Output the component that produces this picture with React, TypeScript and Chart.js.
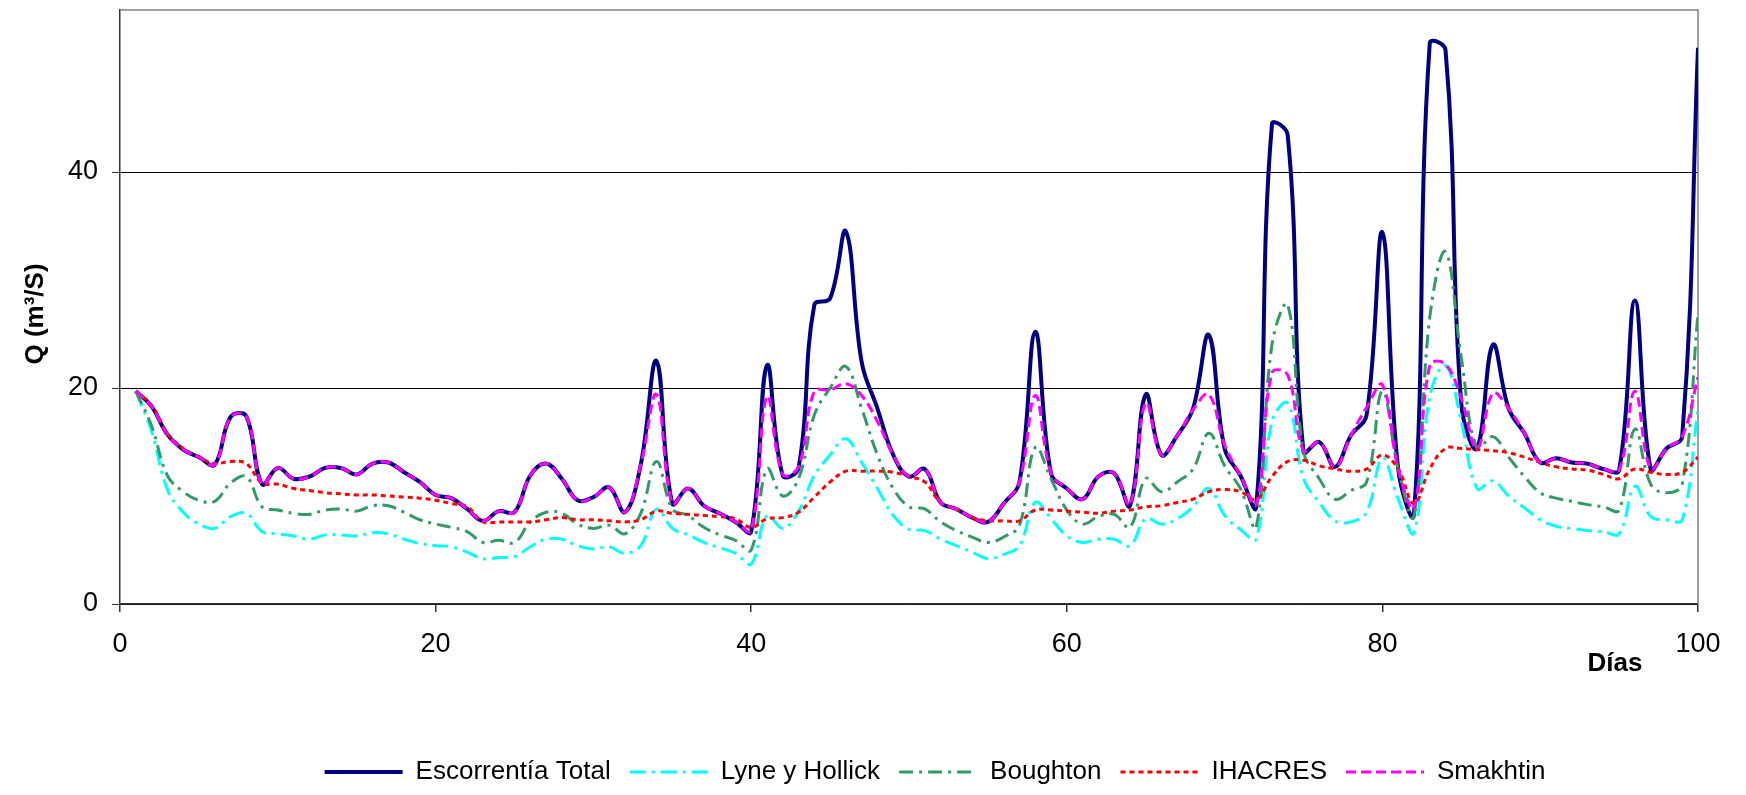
import React, { useEffect, useRef } from 'react';
import { Chart, registerables } from 'chart.js';

Chart.register(...registerables);

const FONT = "Arial, 'Liberation Sans', sans-serif";

const days = [
  1, 2, 3, 4, 5, 6, 7, 8, 9, 10, 11, 12, 13, 14, 15, 16, 17, 18, 19, 20,
  21, 22, 23, 24, 25, 26, 27, 28, 29, 30, 31, 32, 33, 34, 35, 36, 37, 38, 39, 40,
  41, 42, 43, 44, 45, 46, 47, 48, 49, 50, 51, 52, 53, 54, 55, 56, 57, 58, 59, 60,
  61, 62, 63, 64, 65, 66, 67, 68, 69, 70, 71, 72, 73, 74, 75, 76, 77, 78, 79, 80,
  81, 82, 83, 84, 85, 86, 87, 88, 89, 90, 91, 92, 93, 94, 95, 96, 97, 98, 99, 100,
];

const escorrentiaTotal = [
  19.7, 18.3, 15.7, 14.3, 13.6, 12.9, 17.3, 17.4, 11.1, 12.6,
  11.6, 11.8, 12.6, 12.6, 12.0, 13.0, 13.1, 12.2, 11.3, 10.1,
  9.8, 8.8, 7.7, 8.6, 8.5, 11.9, 13.0, 11.6, 9.6, 9.9,
  10.8, 8.5, 12.9, 22.5, 9.3, 10.7, 9.1, 8.4, 7.6, 6.7,
  22.1, 11.9, 12.6, 27.7, 28.3, 34.5, 22.4, 18.1, 13.8, 11.8,
  12.5, 9.4, 8.8, 8.0, 7.6, 9.3, 11.3, 25.2, 12.1, 10.7,
  9.7, 11.8, 12.1, 9.1, 19.4, 13.8, 15.6, 18.1, 24.9, 14.4,
  11.9, 9.0, 44.4, 43.4, 14.1, 15.0, 12.7, 15.6, 17.5, 34.4,
  12.5, 8.3, 51.9, 51.3, 18.5, 14.4, 24.0, 18.1, 15.8, 13.1,
  13.5, 13.1, 13.0, 12.5, 12.4, 28.1, 12.5, 14.4, 15.5, 51.5,
];

const lyneHollick = [
  19.7, 16.0, 10.6, 8.5, 7.4, 7.0, 8.1, 8.4, 6.7, 6.5,
  6.3, 6.0, 6.4, 6.4, 6.3, 6.6, 6.5, 6.0, 5.6, 5.4,
  5.3, 4.8, 4.2, 4.3, 4.4, 5.3, 6.0, 6.0, 5.4, 5.1,
  5.3, 4.7, 5.4, 8.8, 7.0, 6.4, 5.7, 5.2, 4.7, 3.7,
  8.2, 7.0, 8.6, 11.9, 13.8, 15.3, 13.1, 10.7, 8.2, 6.9,
  6.8, 6.0, 5.4, 4.8, 4.2, 4.6, 5.4, 9.4, 7.9, 6.3,
  5.7, 6.0, 6.0, 5.4, 7.9, 7.4, 7.9, 9.0, 10.7, 8.2,
  6.9, 6.0, 16.9, 18.6, 11.6, 9.4, 7.7, 7.6, 8.5, 13.5,
  9.7, 6.6, 19.2, 22.1, 16.9, 10.7, 11.4, 10.0, 8.9, 7.8,
  7.2, 7.0, 6.8, 6.7, 6.5, 10.9, 8.1, 7.8, 7.8, 18.1,
];

const boughton = [
  19.7, 16.5, 11.9, 10.4, 9.6, 9.5, 11.2, 11.8, 9.0, 8.7,
  8.4, 8.3, 8.7, 8.8, 8.6, 9.1, 9.1, 8.5, 7.8, 7.4,
  7.1, 6.7, 5.7, 5.9, 5.7, 7.6, 8.5, 8.4, 7.4, 7.0,
  7.3, 6.5, 8.4, 13.2, 8.8, 8.2, 7.1, 6.4, 5.9, 5.0,
  12.5, 10.0, 11.6, 17.5, 20.0, 22.0, 18.1, 13.8, 10.7, 9.0,
  8.8, 7.6, 6.8, 6.2, 5.7, 6.2, 7.3, 14.5, 11.6, 8.7,
  7.4, 8.1, 8.3, 7.1, 11.6, 10.4, 11.3, 12.5, 15.8, 12.8,
  10.7, 7.1, 24.0, 27.7, 14.1, 11.6, 9.7, 10.5, 11.3, 19.7,
  12.5, 8.1, 26.5, 32.6, 22.8, 14.4, 15.5, 13.6, 11.8, 10.3,
  9.8, 9.5, 9.2, 9.0, 8.7, 16.2, 11.1, 10.3, 11.1, 26.9,
];

const ihacres = [
  19.7, 18.4, 15.8, 14.4, 13.6, 13.0, 13.2, 13.0, 11.2, 11.1,
  10.7, 10.5, 10.3, 10.2, 10.1, 10.1, 10.0, 9.9, 9.8, 9.6,
  9.3, 9.0, 7.6, 7.6, 7.6, 7.6, 7.8, 8.0, 7.8, 7.8,
  7.7, 7.6, 7.8, 8.6, 8.4, 8.3, 8.2, 8.1, 7.9, 7.1,
  7.9, 8.0, 8.5, 9.9, 11.3, 12.3, 12.3, 12.3, 12.2, 11.8,
  11.3, 9.4, 8.8, 8.0, 7.7, 7.7, 7.7, 8.7, 8.7, 8.6,
  8.5, 8.4, 8.6, 8.7, 9.0, 9.1, 9.4, 9.7, 10.4, 10.6,
  10.4, 9.7, 11.8, 13.2, 13.3, 12.8, 12.5, 12.3, 12.5, 13.8,
  12.5, 9.3, 12.5, 14.4, 14.4, 14.3, 14.2, 14.0, 13.6, 13.1,
  12.7, 12.5, 12.4, 12.0, 11.6, 12.5, 12.2, 12.0, 12.2, 13.6,
];

const smakhtin = [
  19.7, 18.3, 15.7, 14.3, 13.6, 12.9, 17.3, 17.4, 11.1, 12.6,
  11.6, 11.8, 12.6, 12.6, 12.0, 13.0, 13.1, 12.2, 11.3, 10.1,
  9.8, 8.8, 7.7, 8.6, 8.5, 11.9, 13.0, 11.6, 9.6, 9.9,
  10.8, 8.5, 12.9, 19.4, 9.3, 10.7, 9.1, 8.4, 7.6, 6.8,
  19.2, 12.0, 12.7, 19.7, 19.8, 20.4, 19.3, 16.9, 13.8, 11.8,
  12.5, 9.4, 8.8, 8.0, 7.6, 9.3, 11.3, 19.3, 12.1, 10.7,
  9.7, 11.8, 12.1, 9.2, 18.6, 13.8, 15.6, 18.0, 19.4, 14.7,
  11.9, 9.2, 21.4, 21.2, 14.2, 15.0, 12.7, 15.6, 18.2, 20.3,
  12.5, 8.9, 22.1, 22.2, 19.0, 14.4, 19.5, 18.1, 15.8, 13.1,
  13.5, 13.1, 13.0, 12.5, 12.4, 19.7, 12.5, 14.4, 15.5, 21.0,
];

const seriesNames = ['Escorrentía Total', 'Lyne y Hollick', 'Boughton', 'IHACRES', 'Smakhtin'];
const xTitle = 'Días';
const yTitle = 'Q (m³/S)';

const toPoints = (vals: number[]) => days.map((d, i) => ({ x: d, y: vals[i] }));

export default function App() {
  const canvasRef = useRef<HTMLCanvasElement | null>(null);

  useEffect(() => {
    document.body.style.margin = '0';
    const canvas = canvasRef.current;
    if (!canvas) return;

    const framePlugin = {
      id: 'frame',
      beforeDatasetsDraw(chart: any) {
        const { ctx, chartArea } = chart;
        const { left, top, right, bottom } = chartArea;
        ctx.save();
        ctx.strokeStyle = '#808080';
        ctx.lineWidth = 1.5;
        ctx.beginPath();
        ctx.moveTo(left, top);
        ctx.lineTo(right, top);
        ctx.lineTo(right, bottom);
        ctx.stroke();
        ctx.restore();
      },
    };

    const axisTitlesPlugin = {
      id: 'axisTitles',
      afterDraw(chart: any) {
        const { ctx, chartArea } = chart;
        ctx.save();
        ctx.font = `bold 26px ${FONT}`;
        ctx.fillStyle = '#000';
        ctx.textAlign = 'center';
        ctx.textBaseline = 'middle';
        ctx.fillText(xTitle, chartArea.right - 83, chartArea.bottom + 60);
        ctx.translate(36, chartArea.top + 304);
        ctx.rotate(-Math.PI / 2);
        ctx.fillText(yTitle, 0, 0);
        ctx.restore();
      },
    };

    const legendShift = {
      id: 'legendShift',
      afterLayout(chart: any) {
        const lg = chart.legend;
        if (lg) {
          lg.left += 86;
          lg.right += 86;
        }
      },
    };

    const common = { pointRadius: 0, pointHoverRadius: 0, fill: false, tension: 0.4 };

    const chart = new Chart(canvas, {
      type: 'line',
      data: {
        datasets: [
          { ...common, label: seriesNames[0], data: toPoints(escorrentiaTotal), borderColor: '#000080', backgroundColor: '#000080', borderWidth: 4, borderDash: [], order: 5 },
          { ...common, label: seriesNames[1], data: toPoints(lyneHollick), borderColor: '#00FFFF', backgroundColor: '#00FFFF', borderWidth: 3, borderDash: [16, 6, 3, 6], order: 4 },
          { ...common, label: seriesNames[2], data: toPoints(boughton), borderColor: '#339966', backgroundColor: '#339966', borderWidth: 3, borderDash: [14, 6, 3, 6], order: 3 },
          { ...common, label: seriesNames[3], data: toPoints(ihacres), borderColor: '#FF0000', backgroundColor: '#FF0000', borderWidth: 3, borderDash: [5, 4], order: 2 },
          { ...common, label: seriesNames[4], data: toPoints(smakhtin), borderColor: '#FF00FF', backgroundColor: '#FF00FF', borderWidth: 3, borderDash: [10, 5], order: 1 },
        ],
      },
      options: {
        animation: false,
        responsive: false,
        maintainAspectRatio: false,
        layout: { padding: { top: 10, right: 48, left: 0, bottom: 0 } },
        plugins: {
          tooltip: { enabled: false },
          title: { display: false },
          legend: {
            display: true,
            position: 'bottom',
            labels: {
              usePointStyle: true,
              pointStyle: 'line',
              pointStyleWidth: 78,
              boxHeight: 26,
              padding: 19,
              color: '#000',
              font: { family: FONT, size: 26 },
              sort: (a: any, b: any) => a.datasetIndex - b.datasetIndex,
              generateLabels: (ch: any) => {
                const items = (Chart as any).defaults.plugins.legend.labels.generateLabels(ch);
                return items.map((it: any) => {
                  const ds = ch.data.datasets[it.datasetIndex];
                  return {
                    ...it,
                    lineDash: ds.borderDash,
                    lineWidth: ds.borderWidth,
                    strokeStyle: ds.borderColor,
                    fillStyle: ds.borderColor,
                    pointStyle: 'line',
                  };
                });
              },
            },
          },
        },
        scales: {
          x: {
            type: 'linear',
            min: 0,
            max: 100,
            ticks: { stepSize: 20, color: '#000', font: { family: FONT, size: 27 }, padding: 16, maxRotation: 0 },
            grid: { drawOnChartArea: false, tickLength: 8, color: '#333', tickColor: '#333', lineWidth: 1.5 },
            border: { color: '#333', width: 1.5 },
            afterFit: (s: any) => { s.height = 136; s.paddingLeft = 0; s.paddingRight = 0; },
          },
          y: {
            min: 0,
            max: 55,
            ticks: { stepSize: 20, includeBounds: false, color: '#000', font: { family: FONT, size: 27 }, padding: 14 },
            grid: { color: '#000', lineWidth: 1, tickLength: 8, tickColor: '#333' },
            border: { color: '#333', width: 1.5 },
            afterFit: (s: any) => { s.width = 120; s.paddingTop = 0; s.paddingBottom = 0; },
          },
        },
      },
      plugins: [framePlugin, axisTitlesPlugin, legendShift],
    } as any);

    return () => chart.destroy();
  }, []);

  return (
    <div style={{ width: 1746, height: 795, background: '#fff' }}>
      <canvas ref={canvasRef} width={1746} height={795} style={{ display: 'block' }} />
    </div>
  );
}
